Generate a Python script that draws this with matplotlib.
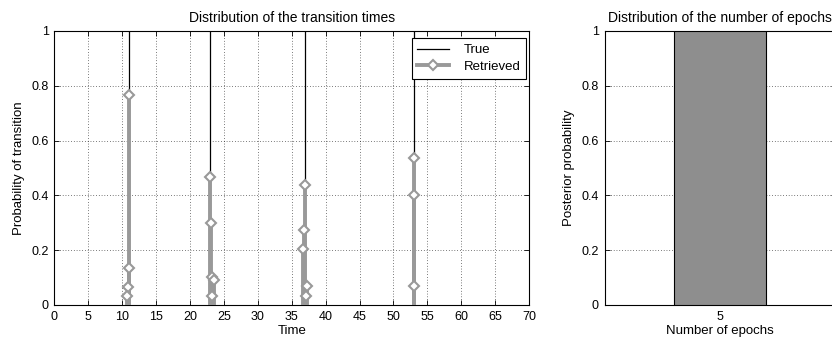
import matplotlib
matplotlib.use("Agg")
import matplotlib.pyplot as plt
from matplotlib.lines import Line2D
from matplotlib.legend_handler import HandlerLine2D
import numpy as np

plt.rcParams['font.family'] = ['Liberation Sans', 'DejaVu Sans']
plt.rcParams['font.size'] = 9.5

# true transition times
true_times = [11, 23, 37, 53]

# retrieved transition times and their probabilities
ret_times = [11.0, 11.0, 10.8, 10.7,
             22.9, 23.1, 23.3, 23.5, 23.3,
             36.9, 36.8, 36.6, 37.2, 37.1,
             53.0, 53.0, 53.1]
ret_probs = [0.765, 0.135, 0.067, 0.033,
             0.467, 0.30, 0.103, 0.09, 0.034,
             0.437, 0.272, 0.205, 0.07, 0.034,
             0.535, 0.40, 0.068]

# number of epochs histogram
epochs = [5]
epoch_probs = [1.0]

gray = '#999999'


class StemHandler(HandlerLine2D):
    # marker on the right end, like a matlab stem legend
    def get_xdata(self, legend, xdescent, ydescent, width, height, fontsize):
        xdata, _ = super().get_xdata(legend, xdescent, ydescent, width, height, fontsize)
        return xdata, [xdata[-1]]


def style_axes(ax):
    ax.tick_params(direction='in', length=3.5, width=0.6, top=True, right=True,
                   pad=4, labelsize=9)
    for s in ax.spines.values():
        s.set_linewidth(0.8)


fig = plt.figure(figsize=(8.32, 3.41), dpi=100)

# left panel
ax1 = fig.add_axes([0.0655, 0.1056, 0.5703, 0.8035])
for t in true_times:
    ax1.plot([t, t], [0, 1], color='black', lw=0.9, zorder=2)
ml, sl, bl = ax1.stem(ret_times, ret_probs, linefmt='-', markerfmt='D', basefmt=' ')
sl.set_color(gray)
sl.set_linewidth(2.8)
sl.set_zorder(3)
ml.set_markerfacecolor('white')
ml.set_markeredgecolor(gray)
ml.set_markeredgewidth(1.5)
ml.set_markersize(5)
ml.set_zorder(4)

ax1.set_xlim(0, 70)
ax1.set_ylim(0, 1)
ax1.set_xticks(np.arange(0, 71, 5))
ax1.set_yticks([0, 0.2, 0.4, 0.6, 0.8, 1])
ax1.set_yticklabels(['0', '0.2', '0.4', '0.6', '0.8', '1'])
ax1.grid(True, linestyle=(0, (1, 3)), color='black', linewidth=0.5)
ax1.set_axisbelow(True)
style_axes(ax1)
ax1.set_xlabel('Time', labelpad=2)
ax1.set_ylabel('Probability of transition', labelpad=5)
ax1.set_title('Distribution of the transition times', pad=6.5, fontsize=10)

h_true = Line2D([], [], color='black', lw=0.9)
h_ret = Line2D([], [], color=gray, lw=2.8, marker='D', markerfacecolor='white',
               markeredgecolor=gray, markeredgewidth=1.5, markersize=5)
leg = ax1.legend([h_true, h_ret], ['True', 'Retrieved'], loc='upper right',
                 bbox_to_anchor=(1 - 2.5 / 475, 1 - 7 / 274), borderaxespad=0,
                 handler_map={h_ret: StemHandler(numpoints=1)},
                 fancybox=False, edgecolor='black', framealpha=1,
                 handlelength=2.4, fontsize=9.5,
                 borderpad=0.45, labelspacing=0.35, handletextpad=1.1)
leg.get_frame().set_linewidth(0.8)

# right panel (runs past the figure edge)
ax2 = fig.add_axes([0.7266, 0.1056, 0.2777, 0.8035])
ax2.bar(epochs, epoch_probs, width=0.8, color='#8e8e8e', edgecolor='black', linewidth=0.8, zorder=3)
ax2.set_xlim(4, 6)
ax2.set_ylim(0, 1)
ax2.set_xticks(epochs)
ax2.set_yticks([0, 0.2, 0.4, 0.6, 0.8, 1])
ax2.set_yticklabels(['0', '0.2', '0.4', '0.6', '0.8', '1'])
ax2.yaxis.grid(True, linestyle=(0, (1, 3)), color='black', linewidth=0.5)
ax2.set_axisbelow(True)
style_axes(ax2)
ax2.tick_params(axis='x', length=0)
ax2.set_xlabel('Number of epochs', labelpad=2)
ax2.set_ylabel('Posterior probability', labelpad=5)
ax2.set_title('Distribution of the number of epochs', pad=6.5, fontsize=10)

fig.savefig('out.png', dpi=100)
